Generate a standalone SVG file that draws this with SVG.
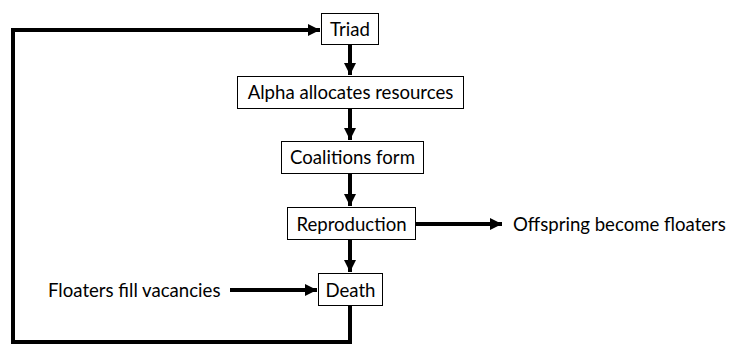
<svg xmlns="http://www.w3.org/2000/svg" width="731" height="345" viewBox="0 0 731 345">
<style>
.box{fill:#fff;stroke:#000;stroke-width:1}
.t{font-family:Lato,"Liberation Sans",sans-serif;font-size:18.6px;fill:#000}
.c{fill:none;stroke:#000;stroke-width:4}
</style>
<defs>
<marker id="ah" viewBox="0 0 10 10" refX="10" refY="5" markerWidth="3" markerHeight="3" markerUnits="strokeWidth" orient="auto">
<path d="M0,0 L10,5 L0,10 z" fill="#000"/>
</marker>
</defs>
<rect width="731" height="345" fill="#fff"/>
<g id="connectors">
<path class="c" d="M350,45 V75" marker-end="url(#ah)"/>
<path class="c" d="M350,109 V140" marker-end="url(#ah)"/>
<path class="c" d="M350,174 V206" marker-end="url(#ah)"/>
<path class="c" d="M350,240 V272" marker-end="url(#ah)"/>
<path class="c" d="M416,224 H502" marker-end="url(#ah)"/>
<path class="c" d="M230,290 H317" marker-end="url(#ah)"/>
<path class="c" d="M350,306 V342 H13 V30 H320" marker-end="url(#ah)"/>
</g>
<g id="triad"><rect class="box" x="321.5" y="13.5" width="57" height="31"/><text class="t" x="350" y="35.5" text-anchor="middle">Triad</text></g>
<g id="alpha"><rect class="box" x="237.5" y="76.5" width="226" height="32"/><text class="t" x="350.5" y="99" text-anchor="middle">Alpha allocates resources</text></g>
<g id="coalitions"><rect class="box" x="281.5" y="141.5" width="142" height="32"/><text class="t" x="352.5" y="164" text-anchor="middle">Coalitions form</text></g>
<g id="reproduction"><rect class="box" x="287.5" y="207.5" width="128" height="32"/><text class="t" x="351.5" y="230.5" text-anchor="middle">Reproduction</text></g>
<g id="death"><rect class="box" x="318.5" y="273.5" width="64" height="32"/><text class="t" x="350.5" y="296.5" text-anchor="middle">Death</text></g>
<g id="offspring"><text class="t" x="513" y="230.5">Offspring become floaters</text></g>
<g id="floaters"><text class="t" x="48" y="296.5">Floaters fill vacancies</text></g>
</svg>
